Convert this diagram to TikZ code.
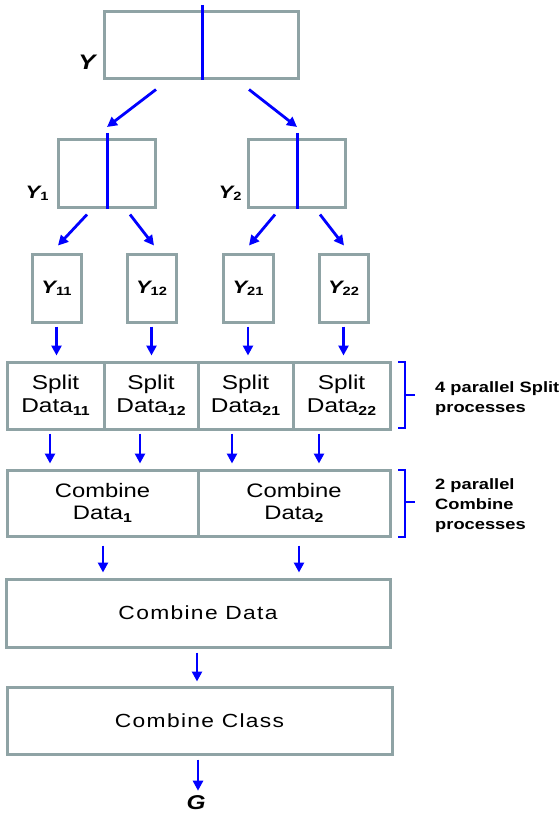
\documentclass[tikz,border=0pt]{standalone}
\usepackage{fontspec}
\usepackage{graphicx}
\usetikzlibrary{arrows.meta,calc}
\setmainfont{Liberation Sans}
\newfontfamily\boxfont{Liberation Sans}[FakeStretch=1.22]
\newfontfamily\wfont{Liberation Sans}[FakeStretch=1.2,LetterSpace=7]
\definecolor{boxgray}{RGB}{143,163,165}
\definecolor{lineblue}{RGB}{0,0,255}
\newcommand\sbs[1]{\raisebox{-2.5pt}{\fontsize{13}{13}\selectfont\bfseries #1}}
\newcommand\ysb[1]{\raisebox{-2pt}{\fontsize{12}{12}\selectfont\bfseries\upshape #1}}
\begin{document}
\begin{tikzpicture}[x=1pt,y=-1pt,
 box/.style={draw=boxgray,line width=3pt,rectangle,inner sep=0pt,align=center,
   font=\boxfont\fontsize{20}{23}\selectfont},
 widebox/.style={box,font=\wfont\fontsize{19}{21}\selectfont},
 arr/.style={draw=lineblue,line width=2.8pt,-{Triangle[length=10pt,width=10pt]}},
 vsplit/.style={draw=lineblue,line width=3pt},
 brace/.style={draw=lineblue,line width=1.5pt},
 ylab/.style={font=\boxfont\bfseries\itshape\fontsize{18}{18}\selectfont,inner sep=0pt},
 side/.style={font=\boxfont\bfseries\fontsize{15}{20}\selectfont,align=left,anchor=west,inner sep=0pt}]
\useasboundingbox (0,0) rectangle (558,813);

% top box Y
\node[box,minimum width=194pt,minimum height=67pt] (Y) at (201,45.5) {};
\coordinate (ytop) at (202,5);
\draw[vsplit] (ytop) -- (ytop |- Y.south);
\node[ylab,font=\boxfont\bfseries\itshape\fontsize{21}{21}\selectfont] (Ylab) at (87,62) {Y};

% Y1, Y2
\node[box,minimum width=97pt,minimum height=67pt] (Y1) at (106.5,173.5) {};
\node[box,minimum width=97pt,minimum height=67pt] (Y2) at (296.5,173.5) {};
\coordinate (y1top) at (107,133);
\coordinate (y2top) at (297,133);
\draw[vsplit] (y1top) -- (y1top |- Y1.south);
\draw[vsplit] (y2top) -- (y2top |- Y2.south);
\node[ylab] (Y1lab) at (37,193) {Y\ysb{1}};
\node[ylab] (Y2lab) at (230,193) {Y\ysb{2}};

\draw[arr] ($(Y.south)+(-45,9)$) -- ($(y1top)+(0,-6)$);
\draw[arr] ($(Y.south)+(48,9)$) -- ($(y2top)+(0,-6)$);

% small boxes
\node[box,minimum width=49pt,minimum height=68pt,font=\boxfont\bfseries\itshape\fontsize{18}{18}\selectfont] (Y11) at (56.5,288) {Y\ysb{11}};
\node[box,minimum width=49pt,minimum height=68pt,font=\boxfont\bfseries\itshape\fontsize{18}{18}\selectfont] (Y12) at (151.5,288) {Y\ysb{12}};
\node[box,minimum width=50pt,minimum height=68pt,font=\boxfont\bfseries\itshape\fontsize{18}{18}\selectfont] (Y21) at (248,288) {Y\ysb{21}};
\node[box,minimum width=49pt,minimum height=68pt,font=\boxfont\bfseries\itshape\fontsize{18}{18}\selectfont] (Y22) at (343.5,288) {Y\ysb{22}};

\draw[arr] ($(Y1.south)+(-19.5,6)$) -- ($(Y11.north)+(1.5,-7)$);
\draw[arr] ($(Y1.south)+(23.5,6)$) -- ($(Y12.north)+(2.5,-7)$);
\draw[arr] ($(Y2.south)+(-21.5,6)$) -- ($(Y21.north)+(1,-7)$);
\draw[arr] ($(Y2.south)+(23.5,6)$) -- ($(Y22.north)+(0.5,-7)$);

% split row
\node[box,minimum width=97pt,minimum height=67pt] (S11) at (55.5,395.5) {Split\\Data\sbs{11}};
\node[box,minimum width=94pt,minimum height=67pt] (S12) at (151,395.5) {Split\\Data\sbs{12}};
\node[box,minimum width=95pt,minimum height=67pt] (S21) at (245.5,395.5) {Split\\Data\sbs{21}};
\node[box,minimum width=97pt,minimum height=67pt] (S22) at (341.5,395.5) {Split\\Data\sbs{22}};

\draw[arr,shorten <=3pt,shorten >=5pt] (Y11.south) -- (Y11.south |- S11.north);
\draw[arr,shorten <=3pt,shorten >=5pt] (Y12.south) -- (Y12.south |- S12.north);
\draw[arr,shorten <=3pt,shorten >=5pt] (Y21.south) -- (Y21.south |- S21.north);
\draw[arr,shorten <=3pt,shorten >=5pt] (Y22.south) -- (Y22.south |- S22.north);

% combine row
\node[box,minimum width=191pt,minimum height=66pt,font=\boxfont\fontsize{19.5}{22}\selectfont] (C1) at (102.5,503) {Combine\\Data\sbs{1}};
\node[box,minimum width=192pt,minimum height=66pt,font=\boxfont\fontsize{19.5}{22}\selectfont] (C2) at (294,503) {Combine\\Data\sbs{2}};

\draw[arr,shorten <=3pt,shorten >=5pt] (S11.south -| 50,0) -- (C1.north -| 50,0);
\draw[arr,shorten <=3pt,shorten >=5pt] (S12.south -| 140,0) -- (C1.north -| 140,0);
\draw[arr,shorten <=3pt,shorten >=5pt] (S21.south -| 232,0) -- (C2.north -| 232,0);
\draw[arr,shorten <=3pt,shorten >=5pt] (S22.south -| 319,0) -- (C2.north -| 319,0);

% combine data / class
\node[widebox,minimum width=384pt,minimum height=68pt] (CD) at (198,613) {Combine Data};
\node[widebox,minimum width=385pt,minimum height=67pt] (CC) at (199.5,720.5) {Combine Class};

\draw[arr,shorten <=8pt,shorten >=5pt] (C1.south -| 103,0) -- (CD.north -| 103,0);
\draw[arr,shorten <=8pt,shorten >=5pt] (C2.south -| 299,0) -- (CD.north -| 299,0);
\draw[arr,shorten <=4pt,shorten >=4pt] (CD.south -| 197,0) -- (CC.north -| 197,0);

\node[ylab,font=\boxfont\bfseries\itshape\fontsize{20}{20}\selectfont] (G) at (196,803) {G};
\draw[arr,shorten <=4pt,shorten >=5pt] (CC.south -| 198,0) -- (G.north -| 198,0);

% braces
\coordinate (b1a) at (398,362);
\coordinate (b1b) at (405,362);
\coordinate (b1c) at (405,428);
\coordinate (b1d) at (398,428);
\coordinate (b1m) at (405,395);
\coordinate (b1e) at (415,395);
\draw[brace] (b1a) -- (b1b) -- (b1c) -- (b1d);
\draw[brace] (b1m) -- (b1e);
\coordinate (b2a) at (398,470);
\coordinate (b2b) at (405,470);
\coordinate (b2c) at (405,537);
\coordinate (b2d) at (398,537);
\coordinate (b2m) at (405,502);
\coordinate (b2e) at (415,502);
\draw[brace] (b2a) -- (b2b) -- (b2c) -- (b2d);
\draw[brace] (b2m) -- (b2e);

\node[side] (T1) at (435,399) {4 parallel Split\\processes};
\node[side] (T2) at (435,506) {2 parallel\\Combine\\processes};
\end{tikzpicture}
\end{document}
